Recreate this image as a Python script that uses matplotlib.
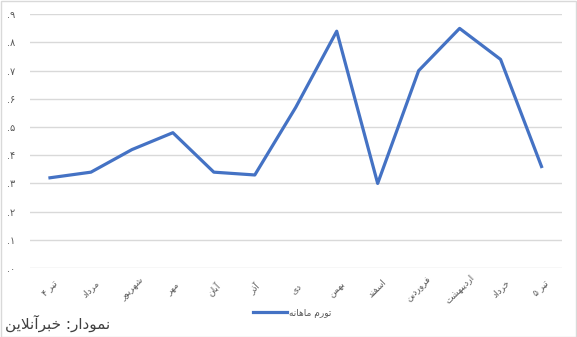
import matplotlib
matplotlib.use("Agg")
import matplotlib.pyplot as plt
from matplotlib.patches import Rectangle

# داده‌ها
months = ['تیر ۴', 'مرداد', 'شهریور', 'مهر', 'آبان', 'آذر', 'دی', 'بهمن',
          'اسفند', 'فروردین', 'اردیبهشت', 'خرداد', 'تیر ۵']
values = [0.32, 0.34, 0.42, 0.48, 0.34, 0.33, 0.57, 0.84,
          0.30, 0.70, 0.85, 0.74, 0.36]
yticks = [0.0, 0.1, 0.2, 0.3, 0.4, 0.5, 0.6, 0.7, 0.8, 0.9]
ytick_labels = ['.۰', '.۱', '.۲', '.۳', '.۴', '.۵', '.۶', '.۷', '.۸', '.۹']
series_name = 'تورم ماهانه'
source_text = 'نمودار: خبرآنلاین'

# شکل‌دهی ساده حروف فارسی (matplotlib اتصال حروف و راست‌به‌چپ را انجام نمی‌دهد)
FORMS = {
    'ا': ('\uFE8D', '\uFE8E', None, None),
    'آ': ('\uFE81', '\uFE82', None, None),
    'ب': ('\uFE8F', '\uFE90', '\uFE91', '\uFE92'),
    'ت': ('\uFE95', '\uFE96', '\uFE97', '\uFE98'),
    'خ': ('\uFEA5', '\uFEA6', '\uFEA7', '\uFEA8'),
    'د': ('\uFEA9', '\uFEAA', None, None),
    'ذ': ('\uFEAB', '\uFEAC', None, None),
    'ر': ('\uFEAD', '\uFEAE', None, None),
    'س': ('\uFEB1', '\uFEB2', '\uFEB3', '\uFEB4'),
    'ش': ('\uFEB5', '\uFEB6', '\uFEB7', '\uFEB8'),
    'ف': ('\uFED1', '\uFED2', '\uFED3', '\uFED4'),
    'ل': ('\uFEDD', '\uFEDE', '\uFEDF', '\uFEE0'),
    'م': ('\uFEE1', '\uFEE2', '\uFEE3', '\uFEE4'),
    'ن': ('\uFEE5', '\uFEE6', '\uFEE7', '\uFEE8'),
    'ه': ('\uFEE9', '\uFEEA', '\uFEEB', '\uFEEC'),
    'و': ('\uFEED', '\uFEEE', None, None),
    'ی': ('\uFEEF', '\uFEF0', '\uFEF3', '\uFEF4'),
}
LAM_ALEF = {'ا': ('\uFEFB', '\uFEFC'), 'آ': ('\uFEF5', '\uFEF6')}


def fa(text):
    chars = list(text)
    out = []
    i = 0
    while i < len(chars):
        c = chars[i]
        if c not in FORMS:
            out.append(c)
            i += 1
            continue
        prev = chars[i - 1] if i > 0 else None
        jp = prev in FORMS and FORMS[prev][2] is not None
        if c == 'ل' and i + 1 < len(chars) and chars[i + 1] in LAM_ALEF:
            lig = LAM_ALEF[chars[i + 1]]
            out.append(lig[1] if jp else lig[0])
            i += 2
            continue
        nxt = chars[i + 1] if i + 1 < len(chars) else None
        jn = nxt in FORMS and FORMS[c][2] is not None
        iso, fin, ini, med = FORMS[c]
        if jp and jn:
            g = med
        elif jp:
            g = fin
        elif jn:
            g = ini
        else:
            g = iso
        out.append(g)
        i += 1
    # ترتیب نمایش راست به چپ
    return ''.join(out)[::-1]


plt.rcParams['font.family'] = ['DejaVu Sans']

fig = plt.figure(figsize=(5.77, 3.37), dpi=100)
ax = fig.add_axes([29.5 / 577, 1 - 268 / 337, (562 - 29.5) / 577, (268 - 14.3) / 337])

x = list(range(len(months)))
ax.plot(x, values, color='#4472C4', lw=2.3, solid_joinstyle='round',
        label=fa(series_name))

ax.set_xlim(-0.5, len(months) - 0.5)
ax.set_ylim(0, 0.9)
ax.set_yticks(yticks)
ax.set_yticklabels(ytick_labels, fontsize=7, color='#595959')
ax.set_xticks(x)
ax.set_xticklabels([fa(m) for m in months], fontsize=6.5, color='#595959',
                   rotation=45, ha='center', va='center')
ax.tick_params(axis='x', length=0, pad=15)
ax.tick_params(axis='y', length=0, pad=10)
ax.grid(axis='y', color='#d9d9d9', lw=1)
ax.set_axisbelow(True)
for s in ax.spines.values():
    s.set_visible(False)

fig.legend(loc='center', bbox_to_anchor=(292 / 577, 1 - 313 / 337), frameon=False,
           fontsize=6.5, handlelength=3.8, handletextpad=0.2, labelcolor='#595959')

fig.text(5 / 577, 1 - 323 / 337, fa(source_text),
         fontsize=11, color='#404040', ha='left', va='center')

fig.patches.append(Rectangle((0.5 / 577, 0.5 / 337), 1 - 1.5 / 577, 1 - 1.5 / 337,
                             transform=fig.transFigure, fill=False,
                             edgecolor='#d9d9d9', lw=1))

fig.savefig('out.png', dpi=100)
